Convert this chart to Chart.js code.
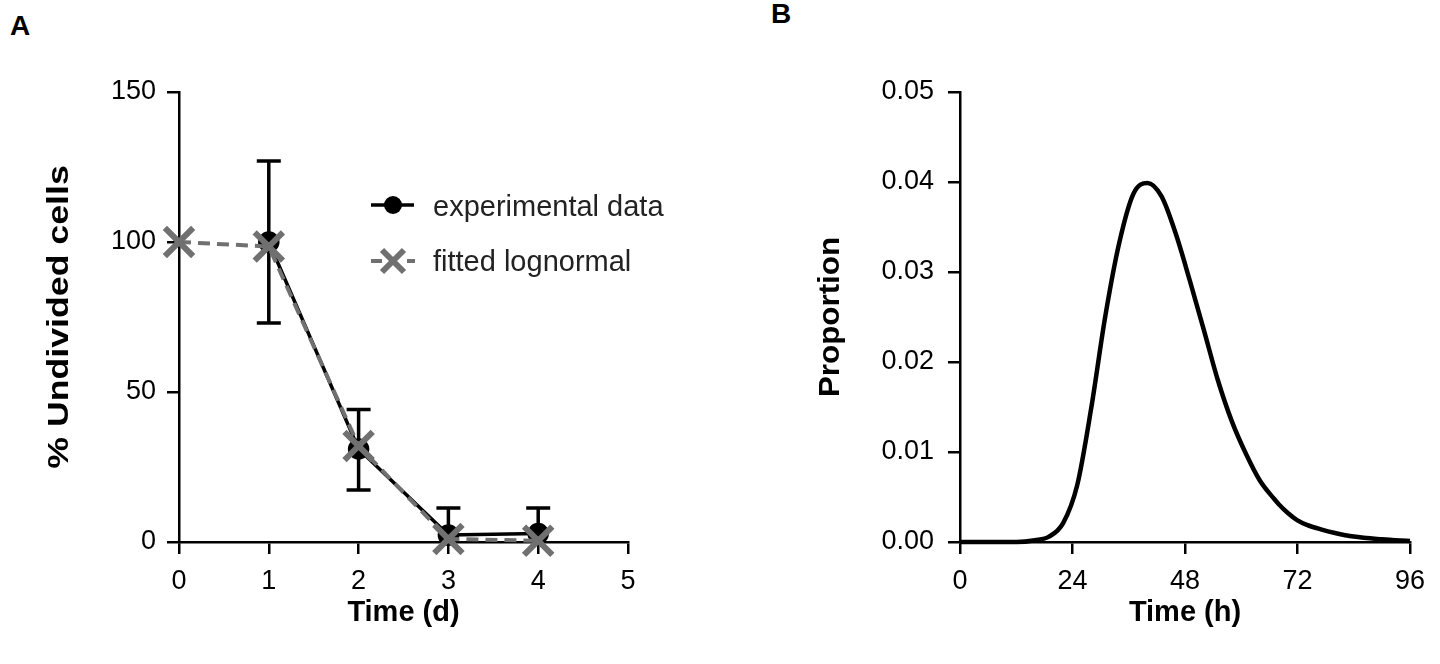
<!DOCTYPE html>
<html>
<head>
<meta charset="utf-8">
<script src="https://cdn.jsdelivr.net/npm/chart.js@4.4.1/dist/chart.umd.min.js"></script>
<style>
  body { margin: 0; background: #fff; width: 1440px; height: 664px; position: relative; overflow: hidden; }
  .panel { position: absolute; top: 0; width: 720px; height: 664px; }
  .letra { position: absolute; font: bold 28px "Liberation Sans", Arial, sans-serif; color: #000; line-height: 1; }
</style>
</head>
<body>
<div class="letra" style="left:10px;top:12px">A</div>
<div class="letra" style="left:771px;top:0px">B</div>
<div class="panel" style="left:0"><canvas id="chartA" width="720" height="664"></canvas></div>
<div class="panel" style="left:720px"><canvas id="chartB" width="720" height="664"></canvas></div>
<script>
// Panel A: % de células no divididas
const dias = [0, 1, 2, 3, 4];
const experimental = [null, 100, 31, 2.3, 2.8];
const errorSuperior = [null, 127, 44.2, 11.3, 11.3];
const errorInferior = [null, 73, 17.3, -6.7, -5.7];
const ajustado = [100, 98.5, 32, 1.0, 0.4];

// Panel B: distribucion lognormal de tiempos de division
const horas = [0, 12, 16, 19, 22, 25, 28, 31, 34, 37, 40, 43, 46, 49, 52, 55, 58, 61, 64, 67, 68, 70, 72, 74, 77, 80, 84, 90, 96];
const proporcion = [0, 0, 0.0002, 0.0006, 0.0021, 0.0063, 0.0149, 0.0251, 0.0333, 0.0387, 0.0399, 0.0384, 0.0343,
  0.0291, 0.0236, 0.018, 0.0134, 0.0098, 0.0068, 0.0048, 0.0042, 0.0032, 0.0024, 0.0019, 0.0014, 0.0010, 0.0006, 0.0003, 0.0001];

Chart.defaults.font.family = '"Liberation Sans", Arial, sans-serif';
Chart.defaults.color = '#000';

const GRIS = '#707070';

// Barras de error (se dibujan debajo de las lineas)
const barrasError = {
  id: 'barrasError',
  beforeDatasetsDraw(chart) {
    const { ctx, scales: { x, y }, chartArea } = chart;
    ctx.save();
    ctx.beginPath();
    ctx.rect(chartArea.left - 20, chartArea.top, chartArea.right - chartArea.left + 40, chartArea.bottom - chartArea.top);
    ctx.clip();
    ctx.strokeStyle = '#000';
    ctx.lineWidth = 3.5;
    dias.forEach((d, i) => {
      if (errorSuperior[i] == null) return;
      const px = x.getPixelForValue(d);
      const yTop = y.getPixelForValue(errorSuperior[i]);
      const yBot = y.getPixelForValue(errorInferior[i]);
      ctx.beginPath();
      ctx.moveTo(px, yTop); ctx.lineTo(px, yBot);
      ctx.moveTo(px - 12, yTop); ctx.lineTo(px + 12, yTop);
      ctx.moveTo(px - 12, yBot); ctx.lineTo(px + 12, yBot);
      ctx.stroke();
    });
    ctx.restore();
  }
};

// Leyenda con linea y marcador
const leyenda = {
  id: 'leyenda',
  afterDraw(chart) {
    const ctx = chart.ctx;
    ctx.save();
    // experimental data
    ctx.strokeStyle = '#000';
    ctx.lineWidth = 3.5;
    ctx.beginPath(); ctx.moveTo(371, 205); ctx.lineTo(414, 205); ctx.stroke();
    ctx.fillStyle = '#000';
    ctx.beginPath(); ctx.arc(393, 205, 9, 0, Math.PI * 2); ctx.fill();
    // fitted lognormal
    ctx.strokeStyle = GRIS;
    ctx.lineWidth = 4;
    ctx.beginPath(); ctx.moveTo(371, 261); ctx.lineTo(382, 261); ctx.moveTo(407, 261); ctx.lineTo(415, 261); ctx.stroke();
    ctx.lineWidth = 6;
    ctx.beginPath();
    ctx.moveTo(382, 250); ctx.lineTo(404, 272);
    ctx.moveTo(404, 250); ctx.lineTo(382, 272);
    ctx.stroke();
    ctx.fillStyle = '#222';
    ctx.font = '29px "Liberation Sans", Arial, sans-serif';
    ctx.textBaseline = 'middle';
    ctx.fillText('experimental data', 433, 208);
    ctx.fillText('fitted lognormal', 433, 263);
    ctx.restore();
  }
};

// Titulo vertical (letras algo mas anchas, como en la figura original)
function tituloY(texto, x, ancho) {
  return {
    id: 'tituloY',
    afterDraw(chart) {
      const { ctx, chartArea } = chart;
      ctx.save();
      ctx.translate(x, (chartArea.top + chartArea.bottom) / 2);
      ctx.rotate(-Math.PI / 2);
      ctx.scale(ancho, 1);
      ctx.font = 'bold 30px "Liberation Sans", Arial, sans-serif';
      ctx.fillStyle = '#000';
      ctx.textAlign = 'center';
      ctx.textBaseline = 'middle';
      ctx.fillText(texto, 0, 0);
      ctx.restore();
    }
  };
}

const ejeComun = {
  grid: { drawOnChartArea: false, drawTicks: true, tickLength: 12, color: '#000', lineWidth: 2.5 },
  border: { color: '#000', width: 2.5 }
};

new Chart(document.getElementById('chartA'), {
  type: 'line',
  data: {
    labels: dias,
    datasets: [{
      label: 'fitted lognormal',
      data: dias.map((d, i) => ({ x: d, y: ajustado[i] })),
      borderColor: GRIS,
      borderWidth: 4,
      borderDash: [12, 7],
      pointStyle: 'crossRot',
      pointRadius: 20,
      pointBorderWidth: 6,
      pointBorderColor: GRIS,
      pointBackgroundColor: GRIS,
      clip: false
    }, {
      label: 'experimental data',
      data: dias.map((d, i) => ({ x: d, y: experimental[i] })),
      borderColor: '#000',
      borderWidth: 3.5,
      pointStyle: 'circle',
      pointRadius: 9,
      pointBackgroundColor: '#000',
      pointBorderColor: '#000',
      clip: false
    }]
  },
  options: {
    responsive: false,
    animation: false,
    events: [],
    layout: { padding: { top: 92, right: 92, left: 0, bottom: 0 } },
    plugins: { legend: { display: false }, tooltip: { enabled: false } },
    scales: {
      x: {
        type: 'linear', min: 0, max: 5,
        ...ejeComun,
        ticks: { stepSize: 1, font: { size: 27 }, padding: 11, maxRotation: 0 },
        title: { display: true, text: 'Time (d)', font: { size: 29, weight: 'bold' }, padding: { bottom: 34 } },
        afterFit: s => { s.height = 122; }
      },
      y: {
        min: 0, max: 150,
        ...ejeComun,
        ticks: { stepSize: 50, font: { size: 27 }, padding: 11 },
        afterFit: s => { s.width = 179; }
      }
    }
  },
  plugins: [barrasError, leyenda, tituloY('% Undivided cells', 60, 1.19)]
});

new Chart(document.getElementById('chartB'), {
  type: 'line',
  data: {
    datasets: [{
      data: horas.map((h, i) => ({ x: h, y: proporcion[i] })),
      borderColor: '#000',
      borderWidth: 4.5,
      pointRadius: 0,
      cubicInterpolationMode: 'monotone',
      clip: false
    }]
  },
  options: {
    responsive: false,
    animation: false,
    events: [],
    layout: { padding: { top: 92, right: 30, left: 0, bottom: 0 } },
    plugins: { legend: { display: false }, tooltip: { enabled: false } },
    scales: {
      x: {
        type: 'linear', min: 0, max: 96,
        ...ejeComun,
        ticks: { stepSize: 24, font: { size: 27 }, padding: 11, maxRotation: 0 },
        title: { display: true, text: 'Time (h)', font: { size: 29, weight: 'bold' }, padding: { bottom: 34 } },
        afterFit: s => { s.height = 122; }
      },
      y: {
        min: 0, max: 0.05,
        ...ejeComun,
        ticks: { stepSize: 0.01, font: { size: 27 }, padding: 14, callback: v => v.toFixed(2) },
        afterFit: s => { s.width = 240; }
      }
    }
  },
  plugins: [tituloY('Proportion', 111, 1.045)]
});
</script>
</body>
</html>
